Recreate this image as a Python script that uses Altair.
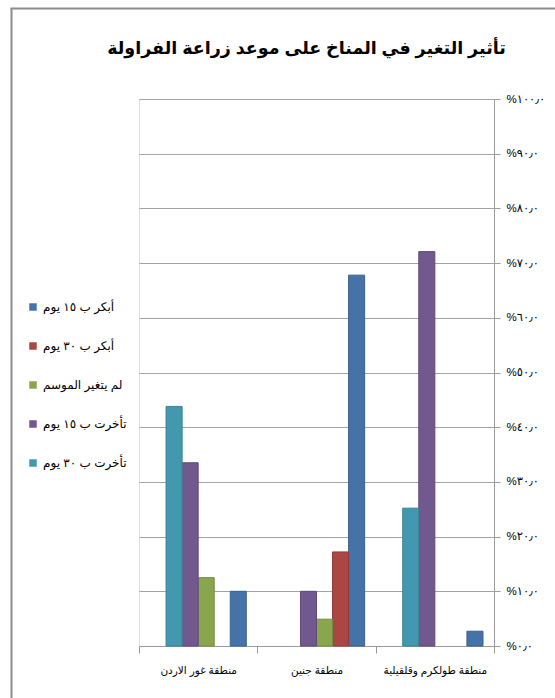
import altair as alt
import pandas as pd

# ---- data ----
categories = ["منطقة غور الاردن", "منطقة جنين", "منطقة طولكرم وقلقيلية"]
series = ["أبكر ب ١٥ يوم", "أبكر ب ٣٠ يوم", "لم يتغير الموسم", "تأخرت ب ١٥ يوم", "تأخرت ب ٣٠ يوم"]
blue_vals = [10.0, 67.8, 2.7]
red_vals = [0.0, 17.2, 0.0]
green_vals = [12.5, 4.9, 0.0]
purple_vals = [33.5, 10.0, 72.1]
teal_vals = [43.8, 0.0, 25.2]
tick_values = [0, 10, 20, 30, 40, 50, 60, 70, 80, 90, 100]
tick_labels = ["%٠٫٠", "%١٠٫٠", "%٢٠٫٠", "%٣٠٫٠", "%٤٠٫٠", "%٥٠٫٠",
               "%٦٠٫٠", "%٧٠٫٠", "%٨٠٫٠", "%٩٠٫٠", "%١٠٠٫٠"]
title_text = "تأثير التغير في المناخ على موعد زراعة الفراولة"

colors = ["#4572A7", "#AA4643", "#89A54E", "#71588F", "#4198AF"]
borders = ["#3A6190", "#923B39", "#748D43", "#61497A", "#378296"]

# slot order left-to-right inside each group (first slot is an empty series)
slot_order = ["-", series[4], series[3], series[2], series[1], series[0]]

all_vals = [blue_vals, red_vals, green_vals, purple_vals, teal_vals]
rows = []
for s, vals in zip(series, all_vals):
    for c, v in zip(categories, vals):
        if v > 0:
            rows.append({"region": c, "series": s, "value": v})
df = pd.DataFrame(rows)

label_expr = "[" + ",".join("'" + t + "'" for t in tick_labels) + "][round(datum.value/10)]"

FONT = "Arial, Liberation Sans, DejaVu Sans"

bars = alt.Chart(df).mark_bar(strokeWidth=1).encode(
    x=alt.X("region:N", sort=categories,
            scale=alt.Scale(domain=categories, paddingInner=0, paddingOuter=0),
            axis=alt.Axis(title=None, labelAngle=0, tickBand="extent", tickSize=7,
                          labelPadding=12, domainColor="#9a9a9a", tickColor="#9a9a9a",
                          labelFontSize=10.5, labelColor="#000000", grid=False,
                          labelFont=FONT)),
    xOffset=alt.XOffset("series:N",
                        scale=alt.Scale(domain=slot_order, paddingInner=0, paddingOuter=0.6875)),
    y=alt.Y("value:Q", scale=alt.Scale(domain=[0, 100], nice=False),
            axis=alt.Axis(orient="right", values=tick_values, labelExpr=label_expr,
                          title=None, tickSize=6, labelPadding=6, domainColor="#9a9a9a",
                          tickColor="#9a9a9a", gridColor="#a3a3a3", gridWidth=1,
                          labelFontSize=11.5, labelColor="#000000", labelFont=FONT)),
    color=alt.Color("series:N", scale=alt.Scale(domain=series, range=colors),
                    legend=alt.Legend(title=None, orient="none", legendX=-112, legendY=202,
                                      symbolType="square", symbolSize=56,
                                      symbolStrokeWidth=0, rowPadding=27,
                                      labelFontSize=12, labelFont=FONT,
                                      labelColor="#000000", labelOffset=4)),
    stroke=alt.Stroke("series:N", scale=alt.Scale(domain=series, range=borders), legend=None),
)

frame_df = pd.DataFrame({"k": [0]})
left_line = alt.Chart(frame_df).mark_rule(color="#8c8c8c", strokeWidth=2).encode(
    x=alt.value(-127.5), y=alt.value(-90.5), y2=alt.value(620))
top_line = alt.Chart(frame_df).mark_rule(color="#8c8c8c", strokeWidth=2).encode(
    x=alt.value(-128.5), x2=alt.value(430), y=alt.value(-90.5))

chart = alt.layer(bars, left_line, top_line).properties(
    width=355, height=547,
    padding={"left": 139, "top": 99, "right": 61, "bottom": 52},
    autosize=alt.AutoSizeParams(type="none"),
    title=alt.TitleParams(title_text, fontSize=17.5, fontWeight="bold", font=FONT,
                          anchor="middle", frame="group", dx=-10, offset=0, dy=50,
                          color="#000000"),
).configure_view(fill="#e6e6e6", stroke=None).configure(background="white")

chart.save("out.html", embed_options={"renderer": "svg", "actions": False})
